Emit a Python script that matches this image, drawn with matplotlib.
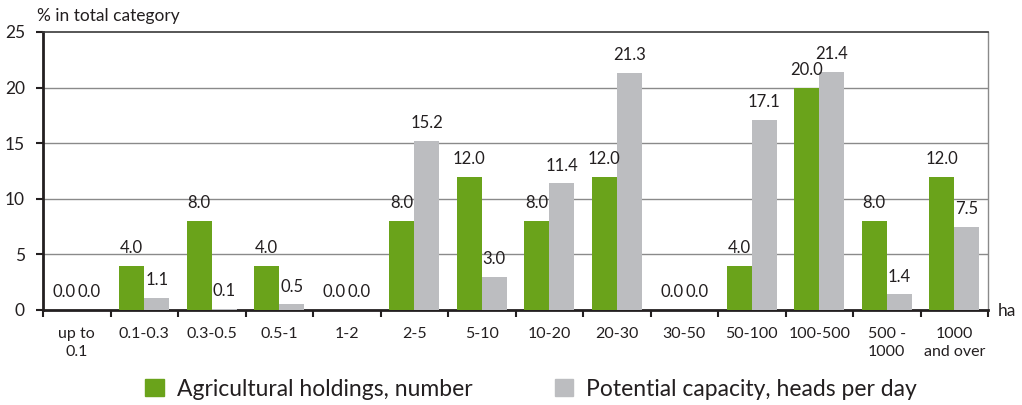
import matplotlib
matplotlib.use("Agg")
import matplotlib.pyplot as plt
import numpy as np
from matplotlib.patches import Patch

plt.rcParams['font.family'] = ['Lato', 'DejaVu Sans']

categories = ["up to\n0.1", "0.1-0.3", "0.3-0.5", "0.5-1", "1-2", "2-5", "5-10", "10-20",
              "20-30", "30-50", "50-100", "100-500", "500 -\n1000", "1000\nand over"]
holdings = [0.0, 4.0, 8.0, 4.0, 0.0, 8.0, 12.0, 8.0, 12.0, 0.0, 4.0, 20.0, 8.0, 12.0]
capacity = [0.0, 1.1, 0.1, 0.5, 0.0, 15.2, 3.0, 11.4, 21.3, 0.0, 17.1, 21.4, 1.4, 7.5]
y_ticks = [0, 5, 10, 15, 20, 25]

green = "#6aa31b"
grey = "#bcbdc0"
txt = "#231f20"

fig = plt.figure(figsize=(10.22, 4.05), dpi=100)
ax = fig.add_axes([43/1022, 1-310/405, (988-43)/1022, (310-32)/405])

x = np.arange(len(categories))
w = 0.37
ax.bar(x - w/2, holdings, w, color=green, zorder=3)
ax.bar(x + w/2, capacity, w, color=grey, zorder=3)

for xi, v in zip(x - w/2, holdings):
    ax.annotate(f"{v:.1f}", (xi, v), xytext=(0, 7), textcoords="offset points",
                ha="center", va="bottom", fontsize=12, color=txt)
for xi, v in zip(x + w/2, capacity):
    ax.annotate(f"{v:.1f}", (xi, v), xytext=(0, 7), textcoords="offset points",
                ha="center", va="bottom", fontsize=12, color=txt)

ax.set_xlim(-0.5, len(categories) - 0.5)
ax.set_ylim(0, 25)
ax.set_yticks(y_ticks)
ax.set_yticklabels([str(t) for t in y_ticks], fontsize=12.5, color=txt)
ax.set_xticks(x)
ax.set_xticklabels(categories, fontsize=11.5, color=txt, linespacing=1.35, va="top")
ax.set_xticks(np.arange(len(categories) + 1) - 0.5, minor=True)
ax.tick_params(axis="x", which="major", length=0, pad=12)
ax.tick_params(axis="x", which="minor", length=5, width=1.5, color="#231f20", direction="out")
ax.tick_params(axis="y", length=5, width=1.5, color="#231f20", direction="out", pad=8)

for t in [5, 10, 15, 20]:
    ax.axhline(t, color="#8a8a8a", lw=1.0, zorder=1)

ax.spines["left"].set_linewidth(2.0)
ax.spines["left"].set_color("#231f20")
ax.spines["bottom"].set_linewidth(2.0)
ax.spines["bottom"].set_color("#231f20")
ax.spines["top"].set_linewidth(1.2)
ax.spines["top"].set_color("#3a3a3a")
ax.spines["right"].set_linewidth(1.0)
ax.spines["right"].set_color("#8a8a8a")

fig.text(37/1022, 1-16/405, "% in total category", fontsize=12.5, color=txt, va="center", ha="left")
fig.text(998/1022, 1-311/405, "ha", fontsize=12.5, color=txt, va="center", ha="left")

handles = [Patch(color=green, label="Agricultural holdings, number"),
           Patch(color=grey, label="Potential capacity, heads per day")]
fig.legend(handles=handles, loc="center", bbox_to_anchor=(531/1022, 1-389/405), ncol=2,
           frameon=False, fontsize=16.5, handlelength=0.82, handleheight=0.82,
           handletextpad=0.55, columnspacing=3.6, labelcolor=txt, borderpad=0)

fig.savefig("out.png", dpi=100)
